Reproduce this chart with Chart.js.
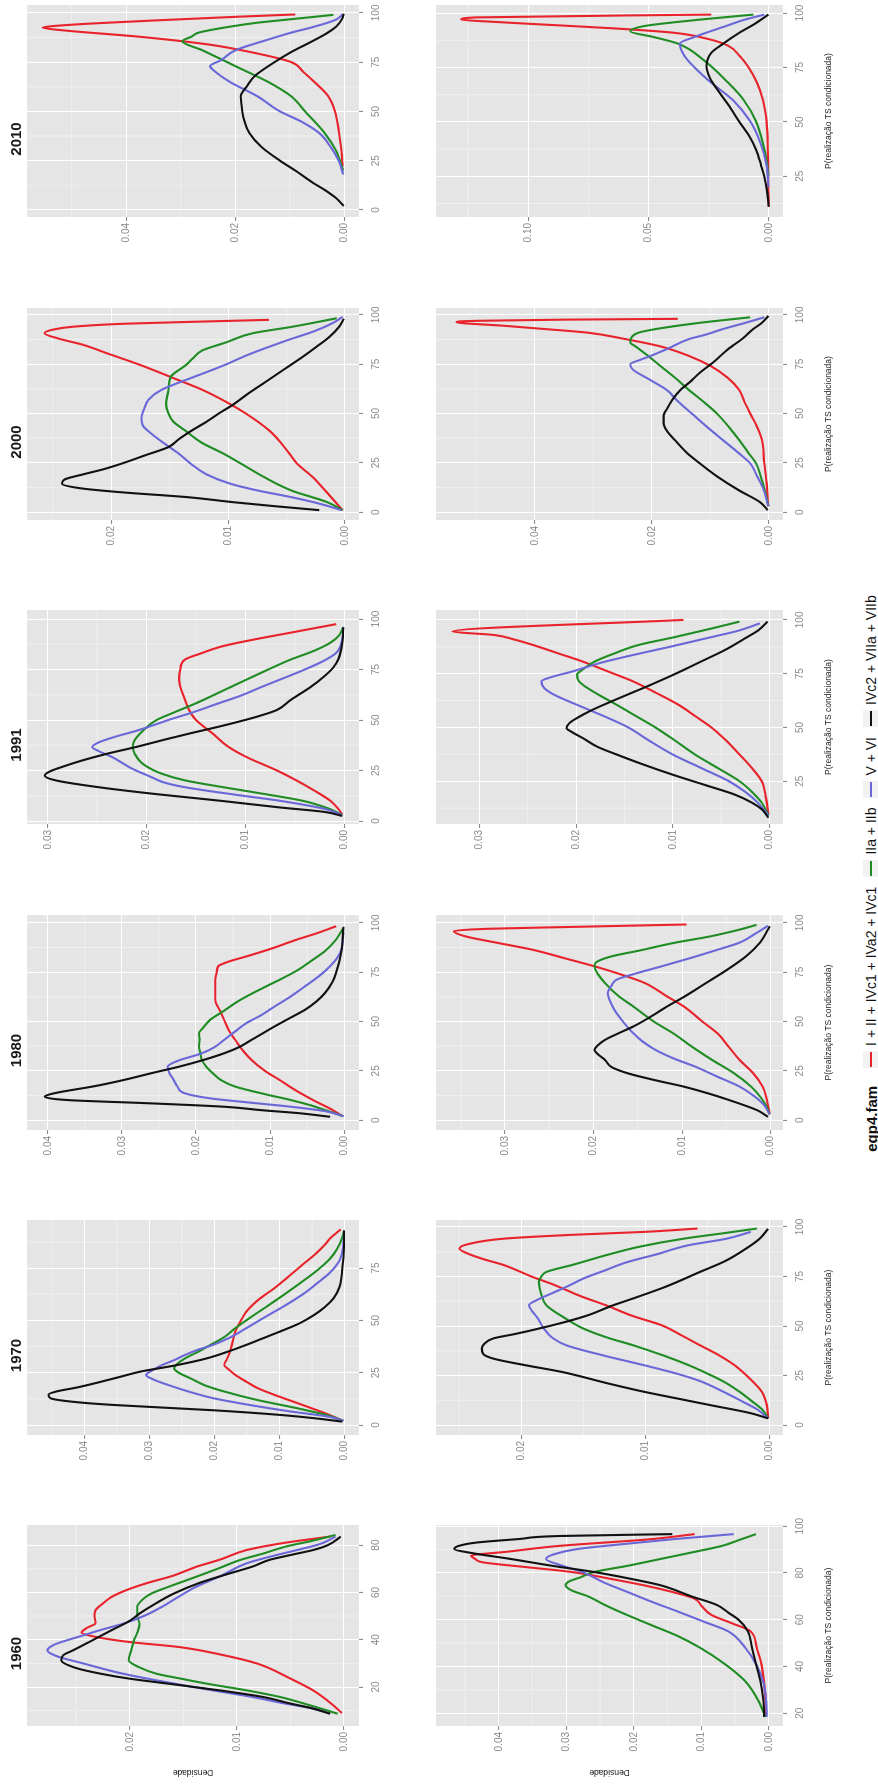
<!DOCTYPE html>
<html>
<head>
<meta charset="utf-8">
<script src="https://cdn.jsdelivr.net/npm/chart.js@4.4.1/dist/chart.umd.min.js"></script>
<style>
html,body{margin:0;padding:0;background:#fff;width:878px;height:1791px;overflow:hidden;}
#land{position:absolute;left:0;top:0;width:1791px;height:878px;background:#fff;transform-origin:0 0;transform:translate(0,1791px) rotate(-90deg);}
#land canvas{position:absolute;}
#legend{position:absolute;left:0;top:861px;width:1791px;height:20px;display:flex;justify-content:center;align-items:center;font-family:"Liberation Sans",Arial,sans-serif;color:#111;}
#legend .lt{font-weight:bold;font-size:15px;margin-right:8px;transform:translateX(22px);}
#legend .grp{display:flex;align-items:center;transform:translateX(22px);}
#legend .key{width:17px;height:17px;background:#f2f2f2;position:relative;margin:0 5px 0 10px;}
#legend .key i{position:absolute;left:1px;right:1px;top:7.5px;height:2px;}
#legend .lab{font-size:14px;white-space:nowrap;}
</style>
</head>
<body>
<div id="land"><div id="legend"></div></div>
<script>
// ---------- categories ----------
const YEARS = ['1960', '1970', '1980', '1991', '2000', '2010'];
const SERIES = ['I + II + IVc1 + IVa2 + IVc1', 'IIa + IIb', 'V + VI', 'IVc2 + VIIa + VIIb'];
const LEGEND_TITLE = 'egp4.fam';
const X_TITLE = 'P(realização TS condicionada)';
const Y_TITLE = 'Densidade';

// ---------- tick labels ----------
const XT_STD = [0, 25, 50, 75, 100];
const XT_1960 = [20, 40, 60, 80, 100];
const YT_2 = [0, 0.01, 0.02];
const YT_3 = [0, 0.01, 0.02, 0.03];
const YT_4 = [0, 0.01, 0.02, 0.03, 0.04];
const YT_E2 = [0, 0.02, 0.04];
const YT_E5 = [0, 0.05, 0.10];

// ---------- series values: [position, density] (top row = upper plots, bottom row = lower plots) ----------
const t2010_red = [[22,0.0003],[30,0.0005],[40,0.001],[50,0.0017],[58,0.003],[65,0.0055],[70,0.0075],[75,0.0097],[80,0.017],[84,0.025],[88,0.038],[91,0.051],[92.5,0.0553],[94,0.05],[96,0.036],[98,0.02],[99.2,0.009]];
const t2010_green = [[20,0.0002],[30,0.0015],[39,0.0036],[50,0.0072],[57.6,0.0097],[65,0.014],[73,0.02],[81,0.026],[85.6,0.0297],[88,0.028],[90,0.0267],[93,0.021],[95,0.016],[97,0.009],[99,0.002]];
const t2010_blue = [[18,0.0002],[25,0.001],[32,0.0025],[39,0.0046],[45,0.008],[50,0.0118],[57.6,0.0159],[65,0.021],[70,0.0236],[73,0.0246],[76,0.0226],[81,0.02],[86,0.0145],[90,0.0097],[93,0.0055],[96.6,0.0015],[99.5,0.0002]];
const t2010_black = [[2,0.0001],[6,0.0015],[10,0.0035],[13.5,0.0056],[20,0.009],[25,0.0118],[32,0.0152],[39,0.0174],[45,0.0183],[50,0.0187],[57.6,0.019],[63,0.0178],[68,0.0164],[75,0.0128],[80,0.0098],[86,0.0056],[90,0.003],[93,0.0015],[97,0.0004],[99.5,0.0001]];

const b2010_red = [[11,0.0001],[20,0.0003],[35,0.0005],[50,0.001],[60,0.0025],[68,0.005],[75,0.0085],[80,0.012],[85,0.017],[88,0.025],[91,0.04],[93,0.065],[94.5,0.09],[96,0.115],[97,0.128],[98,0.122],[99.3,0.024]];
const b2010_green = [[25,0.0002],[35,0.0015],[50,0.0053],[60,0.0105],[68,0.017],[78.6,0.0274],[86,0.038],[89,0.048],[91.6,0.0577],[94,0.052],[97,0.0286],[99.3,0.0065]];
const b2010_blue = [[20,0.0002],[30,0.001],[40,0.0035],[50,0.0077],[60,0.015],[68,0.024],[74,0.03],[78.6,0.034],[83,0.0365],[86,0.037],[89,0.031],[91,0.026],[94,0.018],[97,0.01],[99.3,0.002]];
const b2010_black = [[11,0.0001],[18,0.0008],[25,0.002],[30,0.0033],[37,0.0053],[44,0.0085],[50,0.0123],[58,0.017],[65,0.0216],[70,0.0245],[75.5,0.026],[81.7,0.024],[86,0.019],[91,0.0123],[95,0.006],[99.3,0.0003]];

const t2000_red = [[1,0.0002],[5,0.0008],[11,0.0017],[18,0.0028],[24.6,0.0041],[30,0.0048],[36,0.0056],[41.5,0.0065],[49.7,0.0084],[56,0.0102],[62,0.0122],[68,0.0147],[74.6,0.0175],[80,0.0201],[85,0.0225],[88,0.0245],[90.7,0.0257],[92.5,0.025],[94,0.0233],[95.5,0.019],[96.5,0.013],[97.5,0.0065]];
const t2000_green = [[1,0.0002],[5,0.0015],[11,0.0046],[18,0.007],[24.6,0.0089],[30,0.0105],[35,0.0122],[41.5,0.0137],[46,0.0147],[50,0.0151],[55,0.0153],[62,0.0151],[68.6,0.0149],[74.6,0.0136],[78,0.013],[82,0.0122],[86,0.0102],[90.7,0.0079],[94,0.0045],[98.3,0.0007]];
const t2000_blue = [[1,0.0003],[4,0.002],[7.6,0.0046],[11,0.0075],[14.4,0.0098],[19,0.0118],[24.6,0.0132],[30,0.0143],[35,0.0155],[40,0.0166],[44,0.0173],[48,0.0174],[52,0.0172],[57,0.0168],[62,0.0157],[65,0.0145],[68.6,0.0129],[74.6,0.0103],[80,0.0082],[87,0.005],[92,0.0025],[96,0.001],[99,0.0002]];
const t2000_black = [[1,0.0022],[3,0.006],[5,0.0095],[7.6,0.0135],[10,0.019],[12,0.0225],[14.4,0.0242],[16.5,0.024],[19,0.0225],[22,0.0205],[25,0.0189],[29,0.017],[33,0.0151],[37,0.0142],[41,0.0132],[46,0.0118],[50,0.0108],[54,0.0097],[60,0.0083],[66,0.0068],[72,0.0053],[78,0.0038],[84,0.0024],[89,0.0013],[94,0.0005],[98,0.0001]];

const b2000_red = [[3,0.0001],[15,0.0004],[25,0.0008],[36.6,0.0012],[43,0.002],[50,0.0032],[56,0.0042],[62,0.0051],[68,0.007],[74,0.0099],[79,0.0135],[84,0.0185],[88,0.025],[91,0.031],[93,0.039],[94.5,0.0453],[96.3,0.0534],[97,0.05],[97.6,0.035],[98,0.0156]];
const b2000_green = [[3,0.0001],[12,0.0008],[18,0.0014],[24.7,0.0022],[30,0.0035],[36.6,0.0051],[43,0.0068],[50,0.0089],[56,0.0112],[62,0.0137],[68,0.016],[74,0.0185],[80,0.021],[84,0.0228],[86,0.0237],[88,0.0236],[91,0.0223],[93,0.019],[96,0.0118],[98.8,0.0032]];
const b2000_blue = [[3,0.0001],[12,0.001],[18,0.002],[24.7,0.0032],[30,0.0052],[36.6,0.0079],[43,0.0105],[50,0.0132],[56,0.0155],[62,0.0175],[67,0.0203],[72.4,0.0233],[75,0.0237],[77,0.0222],[79,0.0204],[83,0.0172],[87.7,0.0137],[90,0.0108],[92.8,0.0079],[96,0.004],[98.8,0.0008]];
const b2000_black = [[1,0.0002],[5,0.0015],[11,0.0051],[18,0.0088],[24.7,0.0118],[30,0.014],[36.6,0.0161],[41,0.0174],[45,0.018],[49,0.018],[52,0.0175],[57,0.0165],[62,0.0151],[66,0.0135],[70.7,0.0118],[76,0.0095],[82.6,0.007],[88,0.0045],[92.8,0.0027],[96,0.0012],[99.5,0.0001]];

const t1991_red = [[3.3,0.0002],[6,0.0006],[10,0.0014],[15,0.003],[20,0.0048],[25,0.0068],[31.7,0.0099],[37,0.0118],[43.3,0.0133],[50,0.015],[55,0.0157],[60,0.0161],[65,0.0165],[70,0.0167],[75,0.0166],[80,0.0161],[83,0.0145],[86.7,0.0122],[90,0.009],[93.3,0.0054],[95.5,0.003],[97.5,0.0008]];
const t1991_green = [[3,0.0002],[6,0.0015],[10,0.0042],[13.3,0.008],[16.7,0.0122],[20,0.016],[23.3,0.0184],[28,0.0203],[33.3,0.0212],[37,0.0214],[40,0.0212],[45,0.0203],[50,0.019],[54,0.0171],[58.3,0.015],[64,0.0125],[70,0.0099],[75,0.0077],[80,0.0054],[84,0.0032],[88.3,0.0014],[92,0.0005],[96,0.0001]];
const t1991_blue = [[3,0.0002],[6,0.002],[10,0.0065],[13,0.011],[16.7,0.0161],[19,0.0182],[21.7,0.0195],[26,0.0215],[31.7,0.0235],[34.5,0.0248],[36.7,0.0255],[39,0.0248],[41.7,0.0232],[45,0.0208],[50,0.0178],[54,0.0152],[58.3,0.0127],[62,0.0105],[66.7,0.0082],[71,0.006],[75,0.004],[79,0.0022],[83.3,0.0008],[90,0.0002],[96,0.0001]];
const t1991_black = [[2.5,0.0002],[4.5,0.002],[6.7,0.0065],[10,0.0125],[13.3,0.019],[16.5,0.0245],[20,0.0291],[22.5,0.0303],[24.5,0.0298],[26.7,0.0286],[30,0.0265],[33.3,0.024],[36.5,0.0212],[40,0.0184],[43.5,0.0155],[46.7,0.0127],[51.7,0.0088],[55,0.0068],[60,0.0054],[66,0.0035],[71.7,0.002],[76,0.0011],[80,0.0006],[88,0.0002],[96,0.0001]];

const b1991_red = [[9.5,0.0001],[18,0.0004],[25,0.0008],[31,0.0018],[37.4,0.0031],[44,0.0045],[50,0.006],[55,0.0076],[60.5,0.0094],[66,0.0117],[71.4,0.0141],[76,0.0167],[80.6,0.0193],[84.5,0.0219],[88.4,0.0245],[91,0.0265],[93,0.0285],[94.6,0.0328],[100,0.0089]];
const b1991_green = [[9,0.0001],[15,0.0008],[20,0.0018],[25,0.0031],[31,0.0053],[37.4,0.0077],[44,0.0098],[50,0.0118],[55,0.0137],[60.5,0.0158],[65,0.0176],[69.8,0.0193],[72,0.0198],[74.5,0.0199],[77,0.0193],[80.6,0.0181],[84.5,0.016],[88.4,0.0135],[92,0.0098],[96,0.006],[99.2,0.0031]];
const b1991_blue = [[9,0.0001],[15,0.0012],[20,0.0025],[25,0.0042],[31,0.007],[37.4,0.01],[44,0.0125],[50,0.0146],[55,0.017],[60.5,0.0199],[65,0.0222],[68.3,0.0233],[71.4,0.0236],[73.5,0.0225],[76,0.0204],[80,0.0175],[83.7,0.0141],[87.5,0.0103],[91.5,0.0065],[95,0.0032],[98.4,0.001]];
const b1991_black = [[8,0.0001],[12,0.0008],[15,0.0018],[18.8,0.0036],[23,0.0065],[28,0.01],[33,0.0132],[37.4,0.0158],[41,0.0178],[45,0.0193],[48,0.0205],[49.7,0.021],[52,0.0207],[54.4,0.0199],[58,0.0184],[62,0.0164],[66,0.0143],[69.8,0.0123],[75,0.0097],[80.6,0.0071],[86,0.0046],[91.5,0.0025],[95,0.0012],[99.2,0.0002]];

const t1980_red = [[2,0.0002],[5,0.0015],[10.2,0.0042],[15,0.0065],[20.3,0.0087],[25,0.0107],[30.5,0.0125],[35,0.0136],[40.7,0.0147],[45,0.0155],[50.8,0.0162],[55,0.0167],[61,0.0174],[66,0.0174],[71.2,0.0174],[75,0.0172],[78,0.017],[80.5,0.0155],[83,0.0132],[87,0.0098],[91.5,0.0064],[95,0.0035],[98.3,0.0011]];
const t1980_green = [[2,0.0001],[5,0.0025],[7.5,0.0045],[10.2,0.0072],[13,0.0105],[17,0.0147],[20,0.0165],[23.7,0.0177],[27,0.0186],[30.5,0.0192],[34,0.0194],[37.3,0.0196],[41,0.0195],[44,0.0196],[47,0.019],[50.8,0.0181],[55,0.0164],[61,0.014],[66,0.0115],[71.2,0.0087],[76,0.0063],[81.4,0.0042],[86,0.0025],[91.5,0.0011],[97,0.0002]];
const t1980_blue = [[2,0.0001],[4.5,0.0025],[6.8,0.0072],[9,0.013],[11,0.018],[13.6,0.0215],[17,0.0225],[20.3,0.023],[24,0.0236],[27.1,0.0238],[30,0.0225],[33.9,0.0192],[37,0.0175],[40.7,0.0162],[45,0.0147],[49.2,0.0132],[53,0.0113],[57.6,0.0094],[62,0.0075],[67.8,0.0053],[73,0.0034],[78,0.0019],[82,0.001],[86.4,0.0004],[95,0.0001]];
const t1980_black = [[1.7,0.0019],[3.5,0.006],[5,0.011],[6.8,0.0162],[8.5,0.026],[10.2,0.0374],[11.9,0.0404],[13,0.0398],[14.4,0.0381],[17,0.034],[20.3,0.0298],[24,0.0258],[27.1,0.0223],[30.5,0.019],[33.9,0.0162],[37,0.0142],[40.7,0.0125],[44,0.011],[47.5,0.0094],[52,0.0072],[55.9,0.0053],[60,0.0038],[64.4,0.0026],[70,0.0016],[74.6,0.0011],[85,0.0004],[98,0.0001]];

const b1980_red = [[3,0.0001],[10,0.0004],[17,0.0009],[24,0.002],[30.5,0.0035],[37,0.0047],[44,0.006],[50,0.0077],[57.6,0.0098],[63,0.0118],[69.5,0.0142],[74,0.017],[78,0.0199],[82,0.0232],[86.4,0.0269],[90,0.031],[93.2,0.0345],[95.8,0.0358],[97,0.032],[98,0.022],[99.2,0.0095]];
const b1980_green = [[3,0.0001],[8,0.0006],[12,0.0012],[17,0.0022],[24,0.0042],[30.5,0.0066],[37,0.0088],[44,0.011],[50,0.0132],[57.6,0.0155],[63,0.0172],[69.5,0.0187],[74,0.0195],[78,0.0199],[80,0.0197],[83,0.018],[86,0.0148],[89.8,0.011],[93,0.007],[96.6,0.0035],[99,0.0016]];
const b1980_blue = [[3,0.0001],[8,0.0008],[12,0.0018],[17,0.0035],[22,0.006],[27.1,0.0085],[31,0.0108],[35.6,0.013],[40,0.0145],[44,0.0155],[49,0.0165],[54.2,0.0174],[59,0.018],[64.4,0.0184],[68,0.018],[71.2,0.0174],[74,0.0155],[78,0.0123],[82,0.0092],[86.4,0.006],[90,0.0035],[94.9,0.0016],[98.5,0.0003]];
const b1980_black = [[1.7,0.0003],[5,0.0015],[10.2,0.0047],[13.5,0.007],[17,0.0098],[20,0.0128],[23.7,0.0161],[27,0.018],[30.5,0.0187],[33,0.0194],[35.6,0.0199],[38,0.0195],[40.7,0.0187],[44,0.0172],[47.5,0.0155],[52,0.0137],[57.6,0.0117],[63,0.0096],[69.5,0.0073],[76,0.005],[83,0.0028],[90,0.0012],[95,0.0005],[98.3,0.0001]];

const t1970_red = [[2,0.0003],[5,0.0025],[9.6,0.0065],[13.5,0.01],[17.5,0.0133],[20.5,0.015],[23.9,0.0168],[26.5,0.0178],[28.7,0.0185],[31.5,0.0181],[35.1,0.0176],[40,0.0172],[44.7,0.0168],[49.5,0.016],[54.2,0.0151],[60,0.0132],[65.4,0.0108],[71,0.0086],[76.6,0.0065],[82,0.0044],[86,0.0031],[89.3,0.0022],[92,0.0012],[93.5,0.0006]];
const t1970_green = [[2,0.0002],[4.5,0.0025],[8,0.0073],[12,0.0135],[16,0.0185],[19,0.0215],[22.3,0.0237],[25,0.0255],[27.1,0.0262],[29,0.0258],[31.9,0.0245],[35,0.0225],[38.3,0.0206],[42,0.0185],[46.3,0.0168],[52,0.0142],[57.4,0.0116],[63,0.009],[68.6,0.0065],[74,0.0042],[79.7,0.0022],[84,0.0012],[89.3,0.0004],[93,0.0001]];
const t1970_blue = [[2,0.0002],[4,0.0025],[6.4,0.0082],[9.5,0.0145],[12.8,0.0202],[16,0.024],[19.1,0.0271],[21.5,0.0292],[23.9,0.0305],[26,0.0296],[28.7,0.028],[31,0.0262],[33.5,0.0245],[36,0.0225],[38.3,0.0202],[42,0.0175],[46.3,0.0151],[52,0.012],[57.4,0.009],[63,0.0062],[68.6,0.0039],[73,0.0022],[78,0.0009],[84,0.0003],[92,0.0001]];
const t1970_black = [[1.6,0.0004],[3,0.004],[4.8,0.0099],[7,0.02],[9.6,0.0357],[11,0.0415],[12.8,0.0452],[14.5,0.0455],[16,0.0443],[18,0.041],[20.7,0.0374],[23,0.0345],[25.5,0.0314],[28.5,0.026],[31.9,0.0211],[35,0.018],[38.3,0.0151],[41.5,0.0125],[44.7,0.0099],[48.5,0.007],[52.6,0.0047],[56.5,0.003],[60.6,0.0017],[66,0.0008],[73.4,0.0004],[85,0.0001],[93,0.0001]];

const b1970_red = [[3.4,0.0001],[10,0.0002],[16.8,0.0006],[23,0.0015],[30.2,0.0028],[35,0.004],[40.3,0.0056],[45,0.007],[50.4,0.0087],[55,0.011],[60.5,0.0132],[65,0.0152],[70.6,0.0173],[75,0.0192],[80.7,0.0214],[84,0.0232],[87,0.0245],[89,0.025],[91,0.0245],[94.1,0.0214],[96,0.016],[97.5,0.0101],[99.2,0.0058]];
const b1970_green = [[3.4,0.0001],[8,0.0006],[12,0.0014],[16.8,0.0024],[22,0.0037],[26,0.005],[30.2,0.0065],[35,0.0085],[40.3,0.011],[44,0.013],[48.7,0.015],[54,0.0165],[60.5,0.018],[66,0.0184],[72.3,0.0186],[75,0.0184],[77.3,0.018],[81,0.0158],[85.7,0.0132],[90,0.0105],[94.1,0.0069],[97,0.0035],[99.2,0.001]];
const b1970_blue = [[3.4,0.0001],[8,0.001],[12,0.0022],[16.8,0.0037],[22,0.0055],[26,0.0075],[30.2,0.0101],[35,0.0133],[40.3,0.0164],[44,0.0175],[48.7,0.0182],[54,0.0187],[58,0.0192],[60.5,0.0194],[63,0.0188],[67.2,0.0173],[70,0.0163],[74,0.015],[78,0.0133],[82.4,0.0114],[86,0.0092],[90.8,0.0065],[94,0.0035],[97.5,0.0015]];
const b1970_black = [[3.4,0.0001],[6,0.0015],[10,0.0047],[13.5,0.0075],[16.8,0.0101],[21,0.013],[26.9,0.0168],[30,0.0195],[33.6,0.0223],[36,0.0231],[38.7,0.0232],[41,0.023],[43.7,0.0223],[46,0.0205],[48.7,0.0186],[52,0.0165],[55.5,0.0146],[60,0.0128],[63.9,0.011],[70,0.0083],[77.3,0.0056],[83,0.0035],[89,0.0019],[94,0.0008],[99,0.0001]];

const t1960_red = [[9,0.0002],[13,0.0012],[18.6,0.0029],[24,0.0052],[29.9,0.0081],[33.5,0.0113],[36.9,0.0154],[39,0.02],[41.2,0.0232],[43,0.0245],[45,0.024],[47,0.0232],[50,0.0233],[52.5,0.0232],[55,0.0226],[58.1,0.0217],[61,0.0203],[63.8,0.0185],[67,0.016],[70.8,0.0138],[74,0.0115],[77.9,0.0091],[81,0.0055],[83.6,0.0013]];
const t1960_green = [[8.7,0.0006],[12,0.003],[15.8,0.006],[18.5,0.009],[21.4,0.0128],[23.5,0.0152],[25.6,0.0175],[28.5,0.0192],[31.3,0.0201],[35,0.0199],[39.8,0.0196],[43,0.0193],[46.8,0.0191],[50,0.0193],[53.9,0.0193],[57,0.0188],[59.5,0.018],[63,0.016],[66.6,0.0138],[70,0.0118],[73.7,0.0097],[76.5,0.0075],[79.3,0.0055],[82,0.0028],[84.3,0.0008]];
const t1960_blue = [[8.7,0.0013],[11,0.003],[13,0.0055],[15.8,0.0086],[19,0.0128],[22.8,0.0175],[26,0.021],[29.9,0.0243],[33,0.0268],[35.5,0.0277],[38,0.027],[41.2,0.0248],[44,0.0228],[46.8,0.0206],[50,0.0187],[53.9,0.017],[58,0.0155],[62.4,0.0138],[67,0.0115],[72.3,0.0091],[75,0.007],[77.9,0.0044],[80.5,0.0022],[83.6,0.0008]];
const t1960_black = [[8.7,0.0013],[11,0.003],[13,0.005],[15.8,0.0076],[18.5,0.0115],[21.4,0.0164],[23.5,0.02],[25.6,0.0227],[28,0.025],[31.3,0.0264],[33.5,0.0262],[35.5,0.0253],[39,0.0238],[44,0.0217],[48,0.02],[51,0.0191],[55,0.0177],[59.5,0.0159],[64,0.0135],[68,0.0107],[71,0.0085],[73.7,0.007],[76,0.0048],[77.9,0.0029],[80,0.0015],[83.6,0.0003]];

const b1960_red = [[18.4,0.0005],[25,0.0005],[33,0.0007],[41,0.0011],[48,0.0018],[55,0.0027],[58.5,0.0055],[62,0.0085],[66,0.01],[69,0.011],[72,0.0145],[74.7,0.0185],[77.5,0.0235],[80.4,0.0292],[82.5,0.036],[84.6,0.0425],[86,0.0435],[87.4,0.0441],[89,0.039],[91.6,0.0309],[94.4,0.0176],[96.6,0.011]];
const b1960_green = [[18.4,0.0005],[25,0.0015],[30,0.0025],[34,0.0036],[41,0.0065],[48,0.0102],[53,0.0135],[57.9,0.0176],[62,0.021],[66.3,0.0243],[70,0.0268],[72.5,0.0292],[74.7,0.0301],[76.5,0.0295],[78,0.028],[80.4,0.0259],[83,0.021],[86,0.016],[89,0.011],[91.6,0.0069],[94.5,0.004],[96.6,0.0019]];
const b1960_blue = [[18.4,0.0003],[25,0.0004],[33,0.0008],[41,0.0019],[48,0.0035],[55,0.006],[59,0.0095],[63.5,0.0135],[67.5,0.0172],[71.9,0.021],[76,0.0245],[80.4,0.0276],[83,0.0305],[86,0.033],[88,0.0318],[90.2,0.0284],[92.5,0.021],[94.4,0.0143],[96.6,0.0052]];
const b1960_black = [[18.4,0.0007],[25,0.0008],[33,0.0012],[41,0.0019],[48,0.0025],[55,0.0031],[60,0.0045],[63,0.006],[66.3,0.0077],[70,0.0115],[74.7,0.016],[77.5,0.0205],[80.4,0.0259],[83,0.032],[86,0.0383],[88.5,0.044],[90.2,0.0466],[91.5,0.046],[93,0.0433],[94.5,0.037],[95.8,0.0309],[96.6,0.0143]];

// ---------- panels (scale ranges are axis settings, not data) ----------
const PANELS = [
  {year:'2010', row:'top',    xr:[-3.6,104],  xt:XT_STD,  yr:[-0.0027,0.0582], yt:YT_E2, s:[t2010_red,t2010_green,t2010_blue,t2010_black]},
  {year:'2010', row:'bottom', xr:[6.3,103.7], xt:XT_STD,  yr:[-0.0058,0.1384], yt:YT_E5, s:[b2010_red,b2010_green,b2010_blue,b2010_black]},
  {year:'2000', row:'top',    xr:[-4,103.5],  xt:XT_STD,  yr:[-0.0012,0.0272], yt:YT_2,  s:[t2000_red,t2000_green,t2000_blue,t2000_black]},
  {year:'2000', row:'bottom', xr:[-4,103.5],  xt:XT_STD,  yr:[-0.0024,0.0569], yt:YT_E2, s:[b2000_red,b2000_green,b2000_blue,b2000_black]},
  {year:'1991', row:'top',    xr:[-1.5,104.5],xt:XT_STD,  yr:[-0.0015,0.0321], yt:YT_3,  s:[t1991_red,t1991_green,t1991_blue,t1991_black]},
  {year:'1991', row:'bottom', xr:[5.1,104.6], xt:XT_STD,  yr:[-0.0014,0.0345], yt:YT_3,  s:[b1991_red,b1991_green,b1991_blue,b1991_black]},
  {year:'1980', row:'top',    xr:[-5,104],    xt:XT_STD,  yr:[-0.002,0.0428],  yt:YT_4,  s:[t1980_red,t1980_green,t1980_blue,t1980_black]},
  {year:'1980', row:'bottom', xr:[-5,104],    xt:XT_STD,  yr:[-0.0014,0.0378], yt:YT_3,  s:[b1980_red,b1980_green,b1980_blue,b1980_black]},
  {year:'1970', row:'top',    xr:[-4.8,98],   xt:XT_STD,  yr:[-0.0022,0.0488], yt:YT_4,  s:[t1970_red,t1970_green,t1970_blue,t1970_black]},
  {year:'1970', row:'bottom', xr:[-5,103.5],  xt:XT_STD,  yr:[-0.0011,0.0269], yt:YT_2,  s:[b1970_red,b1970_green,b1970_blue,b1970_black]},
  {year:'1960', row:'top',    xr:[3.5,88.5],  xt:XT_1960, yr:[-0.0014,0.0296], yt:YT_2,  s:[t1960_red,t1960_green,t1960_blue,t1960_black]},
  {year:'1960', row:'bottom', xr:[14.5,100.5],xt:XT_1960, yr:[-0.0021,0.0493], yt:YT_4,  s:[b1960_red,b1960_green,b1960_blue,b1960_black]}
];

// ---------- layout & style (landscape frame, rotated as a whole) ----------
const COLORS = ['#e8232b', '#1f8c24', '#6a68d8', '#111111'];
const COLS = {'1960':[65,266], '1970':[356,571], '1980':[661,876], '1991':[967,1181], '2000':[1271,1483], '2010':[1574,1786]};
const ROWS = {top:{y0:27, y1:359}, bottom:{y0:436, y1:783}};
const FONT = '"Liberation Sans", Arial, sans-serif';
const TICK_COLOR = '#8a8a8a';
const YW = 56, PL = 4, PR = 16, PT = 10, PB = 2;

function minorBreaks(ticks, min, max) {
  const step = ticks[1] - ticks[0];
  const out = [];
  for (let k = -1; k <= ticks.length + 40; k++) {
    const v = ticks[0] + step * (k + 0.5);
    if (v > max) break;
    if (v >= min) out.push(v);
  }
  return out;
}

const panelBg = {
  id: 'panelBg',
  beforeDraw(chart, args, opts) {
    const {ctx, chartArea: a, scales} = chart;
    ctx.save();
    ctx.fillStyle = '#e5e5e5';
    ctx.fillRect(a.left, a.top, a.right - a.left, a.bottom - a.top);
    ctx.strokeStyle = '#f2f2f2';
    ctx.lineWidth = 0.8;
    ctx.beginPath();
    (opts.xMinor || []).forEach(v => { const p = scales.x.getPixelForValue(v); ctx.moveTo(p, a.top); ctx.lineTo(p, a.bottom); });
    (opts.yMinor || []).forEach(v => { const p = scales.y.getPixelForValue(v); ctx.moveTo(a.left, p); ctx.lineTo(a.right, p); });
    ctx.stroke();
    ctx.restore();
  }
};

const land = document.getElementById('land');

function build(p) {
  const [x0, x1] = COLS[p.year];
  const {y0, y1} = ROWS[p.row];
  const isTop = p.row === 'top';
  const isFirst = p.year === '1960';
  const XH = isTop ? 34 : 52;
  const TH = isTop ? 20 : 0;
  const left = x0 - YW - PL, top = y0 - PT - TH;
  const W = x1 - left + PR, H = y1 + XH + PB - top;
  const cv = document.createElement('canvas');
  cv.width = W; cv.height = H;
  cv.style.left = left + 'px'; cv.style.top = top + 'px';
  cv.style.width = W + 'px'; cv.style.height = H + 'px';
  land.appendChild(cv);

  const xt = p.xt.filter(v => v >= p.xr[0] && v <= p.xr[1]);
  const yt = p.yt.filter(v => v >= p.yr[0] && v <= p.yr[1]);

  const datasets = p.s.map((pts, i) => ({
    label: SERIES[i],
    data: pts.map(q => ({x: q[0], y: q[1]})),
    borderColor: COLORS[i],
    borderWidth: 2.1,
    pointRadius: 0,
    fill: false,
    cubicInterpolationMode: 'monotone',
    order: 3 - i
  }));

  const grid = {color: '#ffffff', lineWidth: 1.1, tickColor: TICK_COLOR, tickLength: 4, drawTicks: true};

  new Chart(cv, {
    type: 'line',
    data: {datasets},
    options: {
      responsive: false,
      maintainAspectRatio: false,
      animation: false,
      devicePixelRatio: 1,
      events: [],
      layout: {padding: {left: PL, right: PR, top: PT, bottom: PB}, autoPadding: false},
      plugins: {
        legend: {display: false},
        tooltip: {enabled: false},
        title: isTop ? {display: true, text: p.year, color: '#1a1a1a', font: {family: FONT, size: 15, weight: 'bold', lineHeight: '16px'}, padding: {top: 2, bottom: 2}} : {display: false},
        panelBg: {xMinor: minorBreaks(xt, p.xr[0], p.xr[1]), yMinor: minorBreaks(yt, p.yr[0], p.yr[1])}
      },
      scales: {
        x: {
          type: 'linear', position: 'bottom', min: p.xr[0], max: p.xr[1],
          afterBuildTicks: s => { s.ticks = xt.map(v => ({value: v})); },
          afterFit: s => { s.height = XH; },
          grid: grid, border: {display: false},
          ticks: {color: TICK_COLOR, font: {family: FONT, size: 10}, padding: 7, autoSkip: false, maxRotation: 0, minRotation: 0, callback: v => String(v)},
          title: isTop ? {display: false} : {display: true, text: X_TITLE, color: '#222', font: {family: FONT, size: 8.5, lineHeight: '10px'}, padding: {top: 0, bottom: 1}}
        },
        y: {
          type: 'linear', position: 'left', min: p.yr[0], max: p.yr[1],
          afterBuildTicks: s => { s.ticks = yt.map(v => ({value: v})); },
          afterFit: s => { s.width = YW; },
          grid: grid, border: {display: false},
          ticks: {color: TICK_COLOR, font: {family: FONT, size: 10}, padding: 2, autoSkip: false, callback: v => Number(v).toFixed(2)},
          title: isFirst ? {display: true, text: Y_TITLE, color: '#222', font: {family: FONT, size: 8.5, lineHeight: '10px'}, padding: {top: 5, bottom: 0}} : {display: false}
        }
      }
    },
    plugins: [panelBg]
  });
}

PANELS.forEach(build);

// ---------- legend ----------
const lg = document.getElementById('legend');
let html = '<span class="lt">' + LEGEND_TITLE + '</span>';
SERIES.forEach((name, i) => {
  html += '<span class="grp"><span class="key"><i style="background:' + COLORS[i] + '"></i></span><span class="lab">' + name + '</span></span>';
});
lg.innerHTML = html;
</script>
</body>
</html>
